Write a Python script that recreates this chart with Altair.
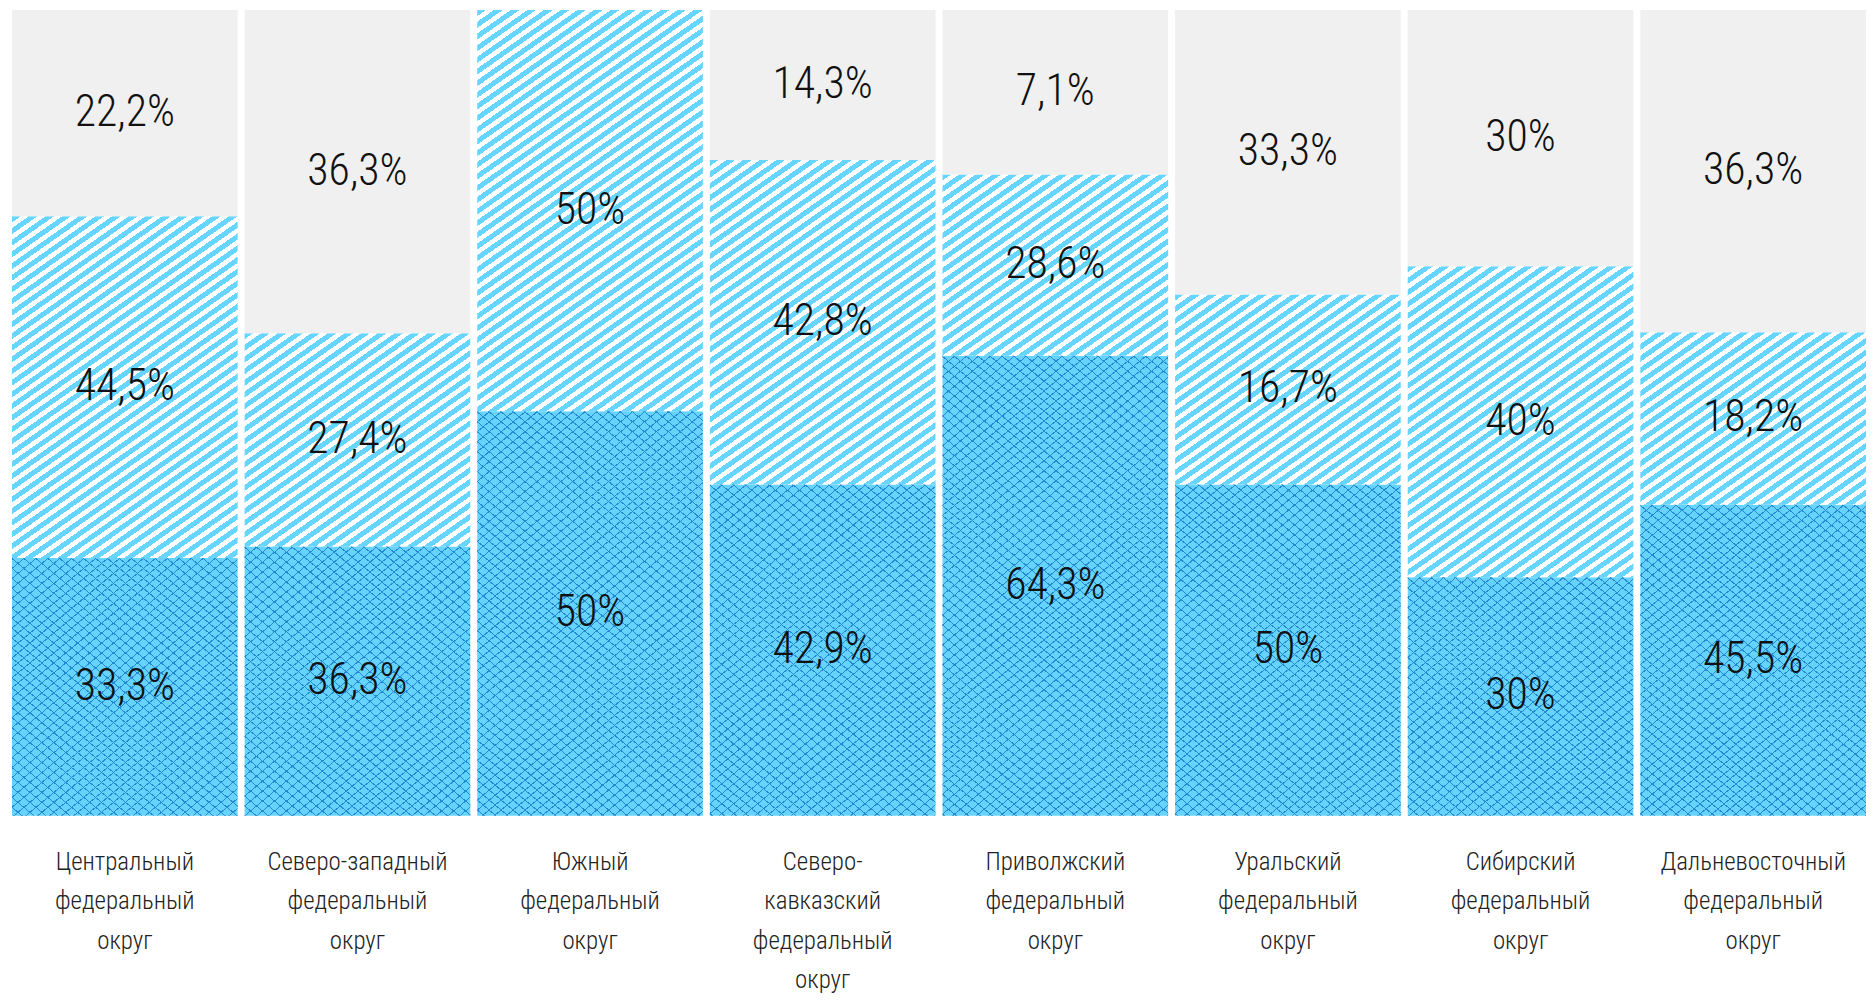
import math
import altair as alt

# ---- data ----
regions = [
    "Центральный\nфедеральный\nокруг",
    "Северо-западный\nфедеральный\nокруг",
    "Южный\nфедеральный\nокруг",
    "Северо-\nкавказский\nфедеральный\nокруг",
    "Приволжский\nфедеральный\nокруг",
    "Уральский\nфедеральный\nокруг",
    "Сибирский\nфедеральный\nокруг",
    "Дальневосточный\nфедеральный\nокруг",
]
# printed shares
bottom_lbl = ["33,3%", "36,3%", "50%", "42,9%", "64,3%", "50%", "30%", "45,5%"]
middle_lbl = ["44,5%", "27,4%", "50%", "42,8%", "28,6%", "16,7%", "40%", "18,2%"]
top_lbl = ["22,2%", "36,3%", "", "14,3%", "7,1%", "33,3%", "30%", "36,3%"]
# drawn segment heights (% of the bar) as measured in the picture
bottom_h = [32.0, 33.4, 50.2, 41.1, 57.1, 41.1, 29.6, 38.6]
middle_h = [42.4, 26.5, 49.8, 40.3, 22.5, 23.6, 38.6, 21.4]
top_h = [25.6, 40.1, 0.0, 18.6, 20.4, 35.3, 31.8, 40.0]

# ---- style ----
PLOT_W, PLOT_H = 1866, 809
P_INNER = 7 / 233.6
P_OUTER = 2 / 233.6
STEP = (PLOT_W) / (len(regions) - P_INNER + 2 * P_OUTER)
BAND_W = STEP * (1 - P_INNER)

GRAY = "#f0f0f0"
STRIPE = "#66d5ff"
SCALE_BG = "#66d3fd"
SCALE_FG = "#2489d3"
FONT = "Roboto Condensed, Liberation Sans Narrow, DejaVu Sans Condensed, sans-serif"


def grad_from_normal(W, H, nx, ny, P, f, fg, bg):
    """Linear gradient with hard stops that draws parallel stripes of period P px."""
    corners = [(0, 0), (1, 0), (0, 1), (1, 1)]
    ts = [nx * W * u + ny * H * v for u, v in corners]
    tmin, tmax = min(ts), max(ts)
    x1, y1 = corners[ts.index(tmin)]
    a, b = nx * W, ny * H
    k = (tmax - tmin) / (a * a + b * b)
    x2, y2 = x1 + k * a, y1 + k * b
    span = tmax - tmin
    events = []
    kk = math.floor(tmin / P) - 1
    while kk * P <= tmax + P:
        s = kk * P
        events.append((s, fg))
        events.append((s + f * P, bg))
        kk += 1
    cur = bg
    for t, c in events:
        if t <= tmin:
            cur = c
    stops = [{"offset": 0, "color": cur}]
    for t, c in events:
        if tmin < t < tmax:
            o = round((t - tmin) / span, 5)
            stops.append({"offset": o, "color": cur})
            stops.append({"offset": o, "color": c})
            cur = c
    stops.append({"offset": 1, "color": cur})
    return {"gradient": "linear", "x1": x1, "y1": y1, "x2": x2, "y2": y2, "stops": stops}


TH = math.radians(35)
PHI = math.radians(39.8)

records = []
for i, r in enumerate(regions):
    start = 0.0
    for seg, h, lbl in (("bottom", bottom_h[i], bottom_lbl[i]),
                        ("middle", middle_h[i], middle_lbl[i]),
                        ("top", top_h[i], top_lbl[i])):
        if h <= 0:
            continue
        end = start + h
        Hpx = h / 100 * PLOT_H
        rec = {"region": r, "seg": seg, "start": start, "end": end,
               "mid": (start + end) / 2, "label": lbl}
        if seg == "top":
            rec["g1"] = GRAY
        elif seg == "middle":
            rec["g1"] = grad_from_normal(BAND_W, Hpx, math.sin(TH), math.cos(TH),
                                         9.6, 0.52, STRIPE, "#ffffff")
        else:
            rec["g1"] = grad_from_normal(BAND_W, Hpx, math.sin(PHI), math.cos(PHI),
                                         7.68, 0.12, SCALE_FG, SCALE_BG)
            rec["g2"] = grad_from_normal(BAND_W, Hpx, -math.sin(PHI), math.cos(PHI),
                                         7.68, 0.12, SCALE_FG, "transparent")
        records.append(rec)
        start = end

data = alt.Data(values=records)

x = alt.X(
    "region:N",
    sort=regions,
    scale=alt.Scale(paddingInner=P_INNER, paddingOuter=P_OUTER, align=1),
    axis=alt.Axis(
        title=None, domain=False, ticks=False, labelAngle=0,
        labelExpr="split(datum.label, '\\n')",
        labelFont=FONT, labelFontSize=25, labelFontWeight=300, labelColor="#222222",
        labelLineHeight=39.5, labelPadding=34, labelLimit=0,
        labelBaseline="top",
    ),
)
yscale = alt.Scale(domain=[0, 100], nice=False, zero=True)

base = alt.Chart(data).mark_bar(strokeWidth=0).encode(
    x=x,
    y=alt.Y("start:Q", scale=yscale, axis=None),
    y2="end:Q",
    fill=alt.Fill("g1:N", scale=None, legend=None),
)

overlay = alt.Chart(data).transform_filter("datum.seg === 'bottom'").mark_bar(strokeWidth=0).encode(
    x=x,
    y=alt.Y("start:Q", scale=yscale, axis=None),
    y2="end:Q",
    fill=alt.Fill("g2:N", scale=None, legend=None),
)

text = alt.Chart(data).mark_text(
    font=FONT, fontSize=44, fontWeight=300, color="#111111",
    baseline="middle", align="center"
).encode(
    x=x,
    y=alt.Y("mid:Q", scale=yscale, axis=None),
    text="label:N",
)

chart = alt.layer(base, overlay, text).properties(
    width=PLOT_W, height=PLOT_H,
    padding={"left": 0, "top": 0, "right": 0, "bottom": 0},
    background="#ffffff",
).configure_view(stroke=None)

chart.save("out.html", embed_options={"renderer": "svg", "actions": False})
